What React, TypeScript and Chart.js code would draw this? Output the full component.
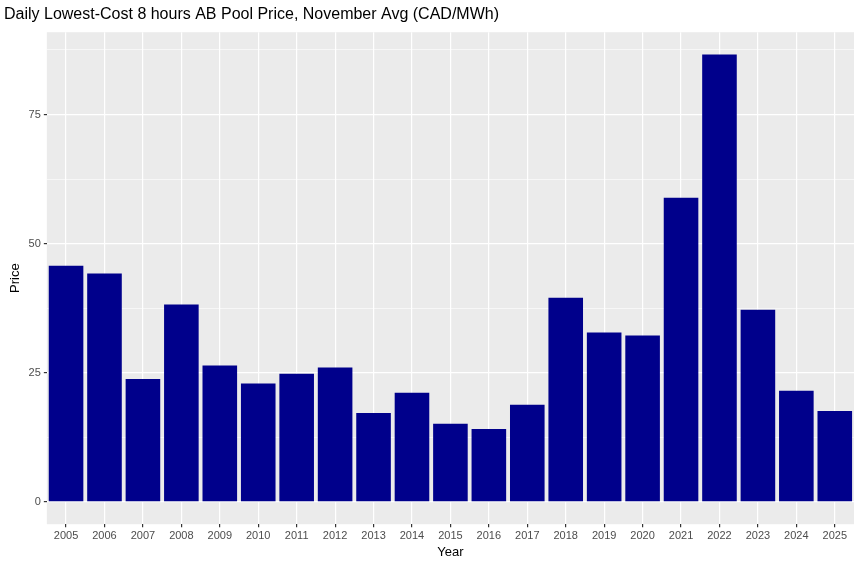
import React, { useEffect, useRef } from "react";
import { Chart, registerables } from "chart.js";
Chart.register(...registerables);

const years = ["2005","2006","2007","2008","2009","2010","2011","2012","2013","2014","2015","2016","2017","2018","2019","2020","2021","2022","2023","2024","2025"];
const prices = [45.7,44.2,23.8,38.2,26.4,22.9,24.8,26.0,17.2,21.1,15.1,14.1,18.8,39.5,32.8,32.2,58.9,86.6,37.2,21.5,17.6];
const yTicks = [0,12.5,25,37.5,50,62.5,75,87.5];

const bgPlugin = {
  id: "panelBg",
  beforeDraw(chart: any) {
    const { ctx, chartArea: a } = chart;
    ctx.save();
    ctx.fillStyle = "#EBEBEB";
    ctx.fillRect(a.left, a.top, a.right - a.left, a.bottom - a.top);
    ctx.restore();
  },
};

export default function App() {
  const ref = useRef<HTMLCanvasElement>(null);
  useEffect(() => {
    document.body.style.margin = "0";
    const c = new Chart(ref.current!, {
      type: "bar",
      data: { labels: years, datasets: [{ data: prices, backgroundColor: "#00008B", barPercentage: 0.9, categoryPercentage: 1 }] },
      plugins: [bgPlugin],
      options: {
        animation: false,
        responsive: false,
        layout: { padding: { right: 10, left: 4, bottom: 4 } },
        plugins: {
          legend: { display: false },
          tooltip: { enabled: false },
          title: { display: true, text: "Daily Lowest-Cost 8 hours AB Pool Price, November Avg (CAD/MWh)", align: "start", color: "#000", font: { family: "Liberation Sans, Arial", size: 16, weight: "normal" }, padding: { top: 5, bottom: 8 } },
        },
        scales: {
          x: {
            offset: true,
            grid: { offset: false, color: "#fff", lineWidth: 1.2, tickColor: "#333", tickLength: 3, drawTicks: true },
            border: { display: false },
            ticks: { color: "#4D4D4D", font: { family: "Liberation Sans, Arial", size: 11 }, maxRotation: 0, autoSkip: false, padding: 2 },
            title: { display: true, text: "Year", color: "#000", font: { family: "Liberation Sans, Arial", size: 13 }, padding: { top: 0 } },
          },
          y: {
            min: -4.33, max: 90.93,
            afterBuildTicks: (s: any) => { s.ticks = yTicks.map((v) => ({ value: v })); },
            grid: {
              color: "#fff",
              lineWidth: (ctx: any) => (ctx.tick && ctx.tick.value % 25 === 0 ? 1.2 : 0.6),
              tickColor: (ctx: any) => (ctx.tick && ctx.tick.value % 25 === 0 ? "#333" : "rgba(0,0,0,0)"),
              tickLength: 3,
            },
            border: { display: false },
            ticks: { color: "#4D4D4D", font: { family: "Liberation Sans, Arial", size: 11 }, padding: 3, callback: (v: any) => (Number(v) % 25 === 0 ? String(v) : "") },
            title: { display: true, text: "Price", color: "#000", font: { family: "Liberation Sans, Arial", size: 13 }, padding: { bottom: 2 } },
          },
        },
      },
    });
    return () => c.destroy();
  }, []);
  return <canvas ref={ref} width={864} height={568} />;
}
